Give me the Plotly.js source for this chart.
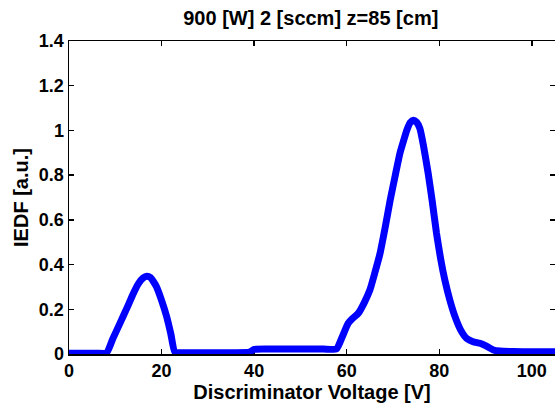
<!DOCTYPE html>
<html>
<head>
<meta charset="utf-8">
<script src="https://cdn.plot.ly/plotly-3.0.1.min.js"></script>
<style>
html,body{margin:0;padding:0;background:#fff;}
#chart{width:555px;height:408px;}
</style>
</head>
<body>
<div id="chart"></div>
<script>
// Discriminator voltage [V]
const voltage = [0, 2, 4, 6, 8.1, 9.5, 11.0, 12.5, 13.9, 15.0, 16.0, 16.8, 17.6, 18.3, 18.9, 20.0, 21.1, 22.0, 22.9,
  25, 30, 35, 39.0, 40.0, 45, 50, 55, 57.8, 59.0, 60.3, 61.3, 62.5, 63.8, 65.0, 66.1, 67.2, 68.3, 69.4, 70.5, 71.5,
  72.3, 73.0, 73.7, 74.4, 75.1, 75.8, 76.6, 77.6, 78.5, 79.4, 80.3, 81.2, 82.3, 83.4, 84.6, 85.9, 87.3, 88.8, 90.2,
  91.7, 93.1, 96, 100, 105];
// IEDF [a.u.]
const iedf = [0.003, 0.003, 0.003, 0.003, 0.005, 0.07, 0.137, 0.205, 0.271, 0.315, 0.340, 0.348, 0.342, 0.322, 0.301,
  0.240, 0.167, 0.090, 0.008,
  0.006, 0.006, 0.006, 0.008, 0.021, 0.022, 0.022, 0.022, 0.023, 0.075, 0.137, 0.160, 0.182, 0.230, 0.286, 0.365,
  0.450, 0.565, 0.689, 0.800, 0.898,
  0.955, 1.002, 1.035, 1.046, 1.037, 1.009, 0.930, 0.808, 0.680, 0.540, 0.425, 0.331, 0.240, 0.167, 0.108, 0.070,
  0.055, 0.048, 0.035, 0.018, 0.013, 0.011, 0.010, 0.010];

const xTicks = [0, 20, 40, 60, 80, 100];
const yTicks = [0, 0.2, 0.4, 0.6, 0.8, 1, 1.2, 1.4];
const yTickText = ['0', '0.2', '0.4', '0.6', '0.8', '1', '1.2', '1.4'];

const fam = '"Liberation Sans", Arial, Helvetica, sans-serif';

const trace = {
  x: voltage,
  y: iedf,
  type: 'scatter',
  mode: 'lines',
  line: {color: '#0000ff', width: 7, shape: 'spline', smoothing: 0.5},
  cliponaxis: false,
  hoverinfo: 'skip'
};

const axisCommon = {
  showgrid: false,
  zeroline: false,
  showline: true,
  linecolor: '#000',
  linewidth: 1.5,
  mirror: 'ticks',
  ticks: 'inside',
  ticklen: 5,
  tickwidth: 1.5,
  tickcolor: '#000',
  layer: 'below traces',
  tickfont: {family: fam, size: 18, color: '#000', weight: 'bold'}
};

const layout = {
  width: 555,
  height: 408,
  margin: {l: 69, r: 0, t: 41, b: 54},
  paper_bgcolor: '#fff',
  plot_bgcolor: '#fff',
  showlegend: false,
  font: {family: fam, color: '#000'},
  title: {
    text: '900 [W] 2 [sccm] z=85 [cm]',
    font: {family: fam, size: 20, color: '#000', weight: 'bold'},
    x: 0.56, xref: 'container', xanchor: 'center',
    y: 0.957, yref: 'container', yanchor: 'middle'
  },
  xaxis: Object.assign({}, axisCommon, {
    range: [0, 105],
    tickvals: xTicks,
    ticktext: xTicks.map(String),
    title: {text: 'Discriminator Voltage [V]', font: {family: fam, size: 20, color: '#000', weight: 'bold'}, standoff: 2}
  }),
  yaxis: Object.assign({}, axisCommon, {
    range: [0, 1.4],
    tickvals: yTicks,
    ticktext: yTickText,
    title: {text: 'IEDF [a.u.]', font: {family: fam, size: 20, color: '#000', weight: 'bold'}, standoff: 5}
  })
};

Plotly.newPlot('chart', [trace], layout, {displayModeBar: false, staticPlot: true});
</script>
</body>
</html>
